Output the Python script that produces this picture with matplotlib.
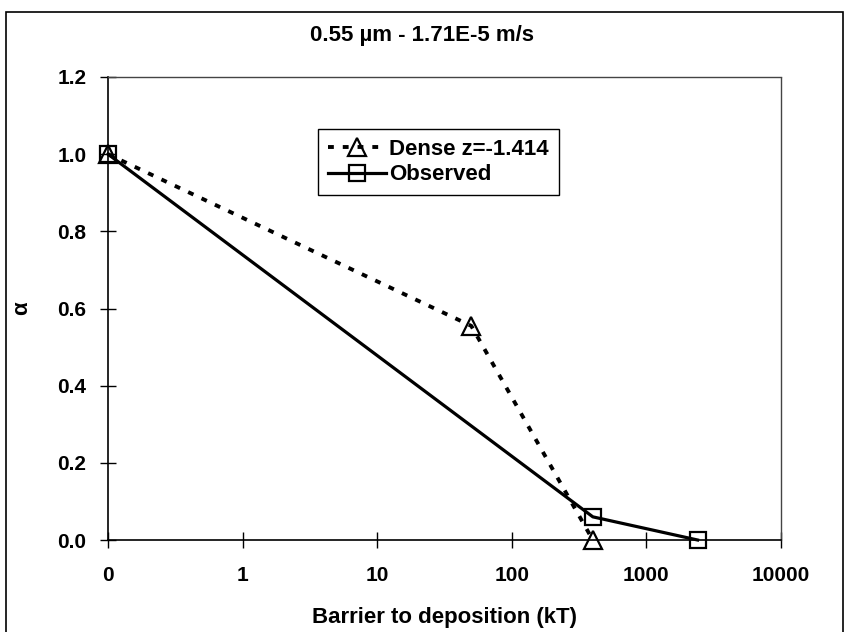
import matplotlib
matplotlib.use("Agg")
import matplotlib.pyplot as plt
from matplotlib.patches import Rectangle
from matplotlib.ticker import FixedLocator, FixedFormatter, NullLocator

plt.rcParams["font.family"] = ["Liberation Sans", "DejaVu Sans"]
plt.rcParams["font.weight"] = "bold"

# Barrier to deposition (kT); a zero barrier sits at 0.1 on the log axis
dense_barrier = [0.1, 50, 400]
dense_alpha = [1.0, 0.555, 0.0]
observed_barrier = [0.1, 400, 2400]
observed_alpha = [1.0, 0.06, 0.0]

x_tick_values = [0.1, 1, 10, 100, 1000, 10000]
x_tick_labels = ["0", "1", "10", "100", "1000", "10000"]
y_tick_values = [0.0, 0.2, 0.4, 0.6, 0.8, 1.0, 1.2]

W, H = 844, 632
L, R, T, B = 108, 781, 77, 540

fig = plt.figure(figsize=(W / 100, H / 100), dpi=100)
ax = fig.add_axes([L / W, 1 - B / H, (R - L) / W, (B - T) / H])

ax.plot(observed_barrier, observed_alpha, color="black", lw=2.3, marker="s",
        markersize=12, markerfacecolor="none", markeredgecolor="black",
        markeredgewidth=1.6, label="Observed", zorder=3, clip_on=False)
ax.plot(dense_barrier, dense_alpha, color="black", lw=2.8, linestyle=(0, (1.5, 2.3)),
        marker="^", markersize=13, markerfacecolor="none", markeredgecolor="black",
        markeredgewidth=1.6, label="Dense z=-1.414", zorder=4, clip_on=False)

ax.set_xscale("log")
ax.set_xlim(0.1, 10000)
ax.set_ylim(0.0, 1.2)
ax.xaxis.set_major_locator(FixedLocator(x_tick_values))
ax.xaxis.set_major_formatter(FixedFormatter(x_tick_labels))
ax.xaxis.set_minor_locator(NullLocator())
ax.set_yticks(y_tick_values)
ax.set_yticklabels([f"{v:.1f}" for v in y_tick_values])

ax.tick_params(axis="both", direction="inout", length=11, width=1.0,
               labelsize=15, color="black")
ax.tick_params(axis="x", pad=13)
ax.tick_params(axis="y", pad=10)
for lab in ax.get_xticklabels() + ax.get_yticklabels():
    lab.set_fontweight("bold")

for side in ("left", "bottom"):
    ax.spines[side].set_color("black")
    ax.spines[side].set_linewidth(1.2)
for side in ("top", "right"):
    ax.spines[side].set_color("#444444")
    ax.spines[side].set_linewidth(1.0)
    ax.spines[side].set_linestyle((0, (1, 1)))

ax.set_xlabel("Barrier to deposition (kT)", fontsize=16, fontweight="bold")
ax.xaxis.set_label_coords(0.5, (B - 607) / (B - T))
ax.set_ylabel("α", fontsize=16, fontweight="bold")
ax.yaxis.set_label_coords((32 - L) / (R - L), 0.5)
fig.text(0.5, 1 - 36 / H, "0.55 µm - 1.71E-5 m/s", ha="center", va="center",
         fontsize=16, fontweight="bold")

handles, labels = ax.get_legend_handles_labels()
leg = ax.legend(handles[::-1], labels[::-1], loc="upper left",
                bbox_to_anchor=((318 - L) / (R - L), (B - 129) / (B - T)),
                frameon=True, fancybox=False, edgecolor="black", framealpha=1,
                fontsize=16, handlelength=2.6, handletextpad=0.15,
                borderpad=0.45, labelspacing=0.2, borderaxespad=0)
leg.get_frame().set_linewidth(1.0)
for t in leg.get_texts():
    t.set_fontweight("bold")

# Outer chart frame
fig.patches.append(Rectangle((6 / W, -0.01), 837 / W, 1 - 12 / H + 0.01,
                             transform=fig.transFigure, fill=False,
                             edgecolor="black", linewidth=1.2))

fig.savefig("out.png", dpi=100)
